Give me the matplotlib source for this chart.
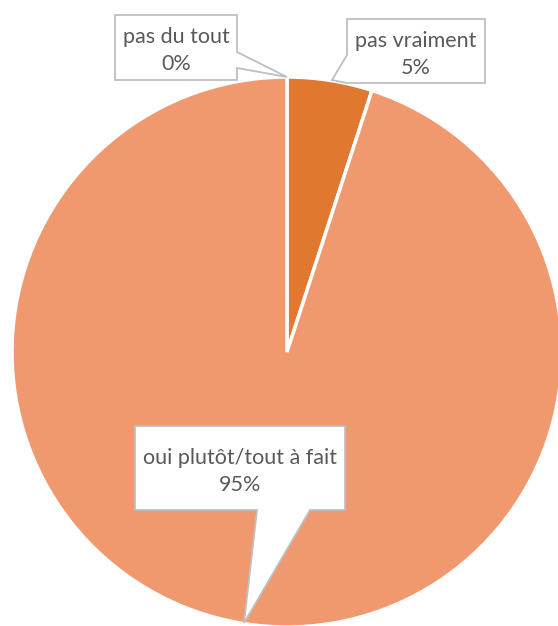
import matplotlib.pyplot as plt
from matplotlib.patches import Polygon

labels = ['pas du tout', 'pas vraiment', 'oui plutôt/tout à fait']
values = [0, 5, 95]
colors = ['#C55A11', '#E0782F', '#F0996F']

W, H = 558, 626
fig = plt.figure(figsize=(W / 100, H / 100), dpi=100)
ax = fig.add_axes([0, 0, 1, 1])

# pie in pixel-like coordinates (y up)
ax.pie(values, colors=colors, startangle=90, counterclock=False,
       center=(287, H - 352), radius=275, frame=True,
       wedgeprops=dict(edgecolor='white', linewidth=2.5))
ax.set_xlim(0, W)
ax.set_ylim(0, H)
ax.set_aspect('equal')
ax.axis('off')


def callout(pts, cx, y1, y2, name, pct):
    # pts given in pixel coords (y down)
    poly = Polygon([(x, H - y) for x, y in pts], closed=True,
                   facecolor='white', edgecolor='#BFBFBF', linewidth=1.3, zorder=5)
    ax.add_patch(poly)
    for y, s in ((y1, name), (y2, pct)):
        ax.text(cx, H - y, s, ha='center', va='center_baseline',
                fontsize=15.5, color='#595959', family='Lato', zorder=6)


pct = ['{}%'.format(v) for v in values]

# pas du tout
callout([(115, 15), (237, 15), (237, 52), (287, 77), (237, 68), (237, 80), (115, 80)],
        176, 35, 62, labels[0], pct[0])
# pas vraiment
callout([(347, 19), (485, 19), (485, 83), (347, 83), (332, 80), (347, 55)],
        416, 39, 66, labels[1], pct[1])
# oui
callout([(135, 426), (345, 426), (345, 510), (310, 510), (244, 623), (257, 510), (135, 510)],
        240, 456, 483, labels[2], pct[2])

fig.savefig('out.png', dpi=100)
